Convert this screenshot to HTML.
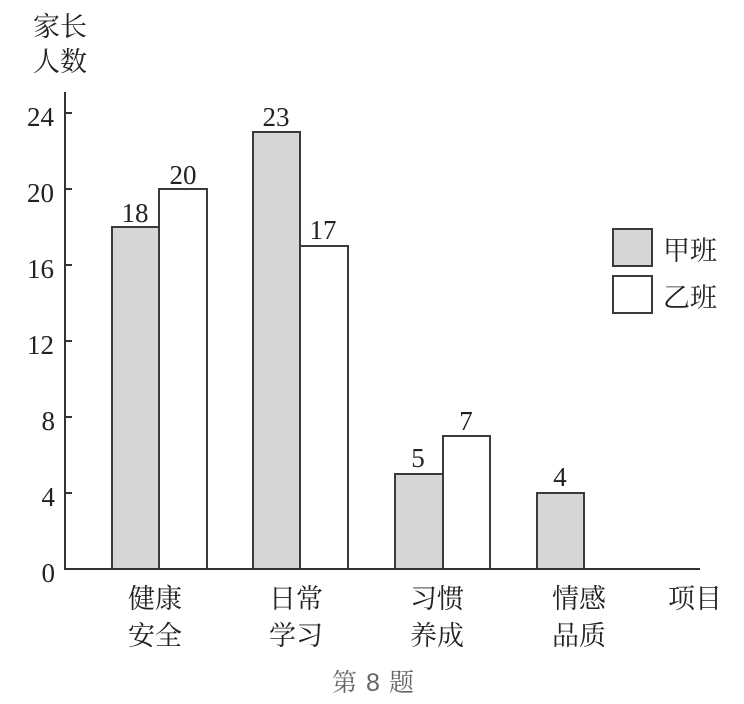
<!DOCTYPE html>
<html><head><meta charset="utf-8">
<style>
html,body{margin:0;padding:0;background:#fff;}
svg{display:block;}
.num{font-family:"Liberation Serif",serif;font-size:27px;fill:#222;}
.cjk{font-family:"Liberation Serif","Noto Serif CJK SC",serif;font-size:27px;fill:#222;}
.cap{font-family:"Liberation Sans","Noto Serif CJK SC",sans-serif;font-size:25px;fill:#666;}
</style></head>
<body>
<svg width="744" height="704" viewBox="0 0 744 704" xmlns="http://www.w3.org/2000/svg">
<rect width="744" height="704" fill="#fff"/>
<!-- title -->
<text class="cjk" x="60" y="27" text-anchor="middle" dominant-baseline="central">家长</text>
<text class="cjk" x="60" y="62" text-anchor="middle" dominant-baseline="central">人数</text>
<!-- axes -->
<line x1="65" y1="92" x2="65" y2="569" stroke="#333" stroke-width="2"/>
<line x1="64" y1="569" x2="700" y2="569" stroke="#333" stroke-width="2"/>
<g stroke="#333" stroke-width="2">
<line x1="65" y1="113" x2="72" y2="113"/>
<line x1="65" y1="189" x2="72" y2="189"/>
<line x1="65" y1="265" x2="72" y2="265"/>
<line x1="65" y1="341" x2="72" y2="341"/>
<line x1="65" y1="417" x2="72" y2="417"/>
<line x1="65" y1="493" x2="72" y2="493"/>
</g>
<g class="num" text-anchor="end">
<text x="54" y="126">24</text>
<text x="54" y="202">20</text>
<text x="54" y="278">16</text>
<text x="54" y="354">12</text>
<text x="55" y="430">8</text>
<text x="55" y="506">4</text>
<text x="55" y="582">0</text>
</g>
<!-- bars -->
<g stroke="#3a3a3a" stroke-width="2">
<rect x="112" y="227" width="47" height="342" fill="#d6d6d6"/>
<rect x="159" y="189" width="48" height="380" fill="#fff"/>
<rect x="253" y="132" width="47" height="437" fill="#d6d6d6"/>
<rect x="300" y="246" width="48" height="323" fill="#fff"/>
<rect x="395" y="474" width="48" height="95" fill="#d6d6d6"/>
<rect x="443" y="436" width="47" height="133" fill="#fff"/>
<rect x="537" y="493" width="47" height="76" fill="#d6d6d6"/>
</g>
<line x1="64" y1="569" x2="700" y2="569" stroke="#333" stroke-width="2"/>
<!-- value labels -->
<g class="num" text-anchor="middle">
<text x="135" y="222">18</text>
<text x="183" y="184">20</text>
<text x="276" y="126">23</text>
<text x="323" y="239">17</text>
<text x="418" y="467">5</text>
<text x="466" y="430">7</text>
<text x="560" y="486">4</text>
</g>
<!-- categories -->
<g class="cjk" text-anchor="middle" dominant-baseline="central">
<text x="155" y="599">健康</text>
<text x="155" y="636">安全</text>
<text x="296" y="599">日常</text>
<text x="296" y="636">学习</text>
<text x="437" y="599">习惯</text>
<text x="437" y="636">养成</text>
<text x="579" y="599">情感</text>
<text x="579" y="636">品质</text>
<text x="695" y="599">项目</text>
</g>
<!-- legend -->
<rect x="613" y="229" width="39" height="37" fill="#d6d6d6" stroke="#3a3a3a" stroke-width="2"/>
<rect x="613" y="276" width="39" height="37" fill="#fff" stroke="#3a3a3a" stroke-width="2"/>
<text class="cjk" x="663" y="251" dominant-baseline="central">甲班</text>
<text class="cjk" x="663" y="298" dominant-baseline="central">乙班</text>
<!-- caption -->
<text class="cap" x="332" y="683" dominant-baseline="central">第</text>
<text class="cap" x="366" y="683" dominant-baseline="central">8</text>
<text class="cap" x="389" y="683" dominant-baseline="central">题</text>
</svg>
</body></html>
